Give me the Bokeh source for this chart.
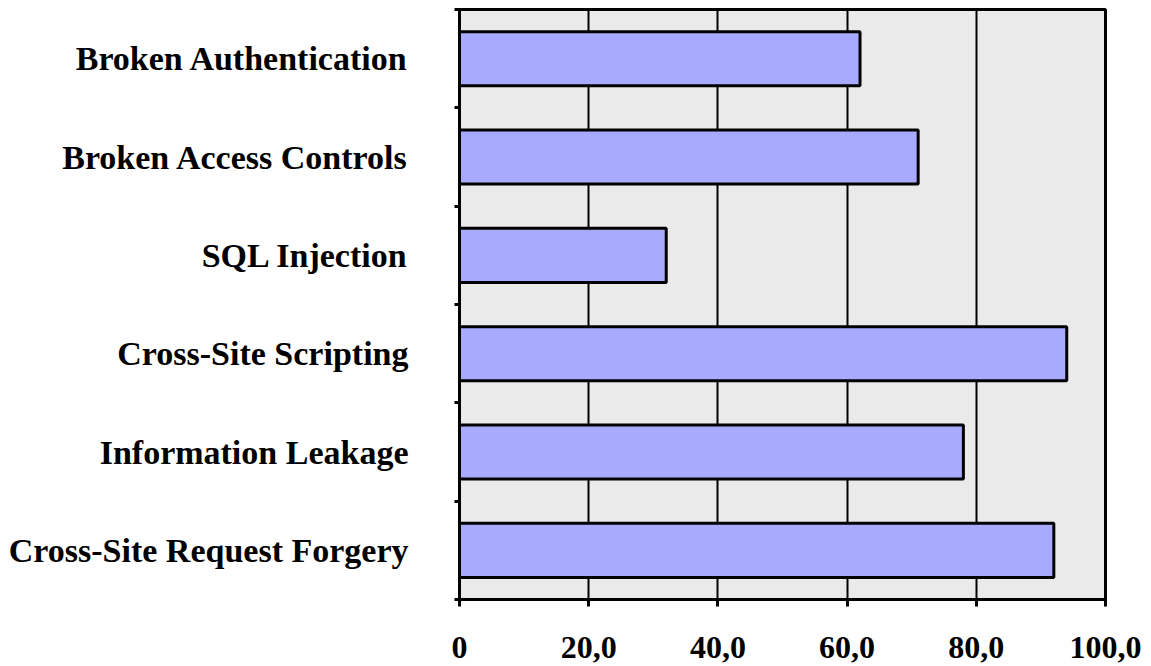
from bokeh.plotting import figure
from bokeh.models import FixedTicker, Range1d, ColumnDataSource
from bokeh.embed import file_html
from bokeh.resources import INLINE

# data (bottom to top)
categories = ["Cross-Site Request Forgery", "Information Leakage", "Cross-Site Scripting",
              "SQL Injection", "Broken Access Controls", "Broken Authentication"]
values = [92, 78, 94, 32, 71, 62]
x_ticks = [0, 20, 40, 60, 80, 100]
x_tick_labels = ["0", "20,0", "40,0", "60,0", "80,0", "100,0"]

positions = [i + 0.5 for i in range(len(categories))]
boundaries = list(range(len(categories) + 1))

src = ColumnDataSource(dict(y=positions, v=values, cat=categories))

p = figure(width=1151, height=666, output_backend="svg", toolbar_location=None,
           x_range=Range1d(0, 100), y_range=Range1d(0, len(categories)),
           min_border_left=459, min_border_right=46, min_border_top=9, min_border_bottom=67)
p.background_fill_color = "#eaeaea"
p.border_fill_color = "white"
p.outline_line_color = "black"
p.outline_line_width = 3

p.hbar(y="y", left=0, right="v", height=0.55, source=src,
       fill_color="#a8aaff", line_color="black", line_width=3)

# x axis
p.xaxis.ticker = FixedTicker(ticks=x_ticks)
p.xaxis.major_label_overrides = {t: l for t, l in zip(x_ticks, x_tick_labels)}
p.xaxis.axis_line_width = 3
p.xaxis.axis_line_color = "black"
p.xaxis.major_tick_line_width = 3
p.xaxis.major_tick_out = 7
p.xaxis.major_tick_in = 0
p.xaxis.minor_tick_line_color = None
p.xaxis.major_label_text_font = "Liberation Serif"
p.xaxis.major_label_text_font_style = "bold"
p.xaxis.major_label_text_font_size = "32px"
p.xaxis.major_label_text_color = "black"
p.xaxis.major_label_standoff = 30

# y axis
p.yaxis.ticker = FixedTicker(ticks=positions, minor_ticks=boundaries)
p.yaxis.major_label_overrides = {t: c for t, c in zip(positions, categories)}
p.yaxis.axis_line_width = 3
p.yaxis.axis_line_color = "black"
p.yaxis.major_tick_out = 0
p.yaxis.major_tick_in = 0
p.yaxis.minor_tick_out = 5
p.yaxis.minor_tick_in = 0
p.yaxis.minor_tick_line_width = 3
p.yaxis.minor_tick_line_color = "black"
p.yaxis.major_label_text_font = "Liberation Serif"
p.yaxis.major_label_text_font_style = "bold"
p.yaxis.major_label_text_font_size = "34px"
p.yaxis.major_label_text_color = "black"
p.yaxis.major_label_standoff = 46

p.xgrid.ticker = FixedTicker(ticks=x_ticks)
p.xgrid.grid_line_color = "black"
p.xgrid.grid_line_width = 2
p.ygrid.grid_line_color = None

open("out.html", "w").write(file_html(p, INLINE))
